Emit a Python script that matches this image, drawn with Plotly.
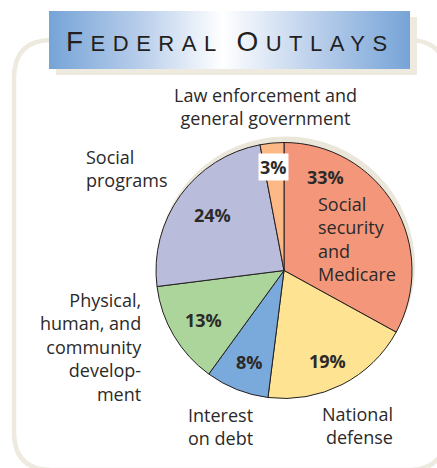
import plotly.graph_objects as go

# ---- data ----
categories = ["Social security and Medicare", "National defense", "Interest on debt",
              "Physical, human, and community development", "Social programs",
              "Law enforcement and general government"]
shares = [33, 19, 8, 13, 24, 3]
slice_colors = ["#f4967a", "#fee393", "#7aa9db", "#acd59c", "#b9bddb", "#fcb986"]

outside_labels = ["Social<br>security<br>and<br>Medicare", "National<br>defense",
                  "Interest<br>on debt", "Physical,<br>human, and<br>community<br>develop-<br>ment",
                  "Social<br>programs", "Law enforcement and<br>general government"]

W, H = 437, 468
TXT = "#2b2a29"
CREAM = "#eeeae0"
FONT = "Open Sans"

fig = go.Figure()

# pie (center 284,270.5  radius 128 in pixels)
cx, cy, r = 284, 270.5, 128
fig.add_trace(go.Pie(
    labels=categories, values=shares, sort=False, direction="clockwise", rotation=0,
    marker=dict(colors=slice_colors, line=dict(color="#231f20", width=1)),
    textinfo="none", hoverinfo="label+value", showlegend=False,
    domain=dict(x=[(cx - r) / W, (cx + r) / W], y=[(H - cy - r) / H, (H - cy + r) / H]),
))

# gradient title box via scatter fill
bx0, bx1, by0, by1 = 49, 410, 11, 69
fig.add_trace(go.Scatter(
    x=[bx0, bx1, bx1, bx0, bx0], y=[by0, by0, by1, by1, by0],
    mode="lines", line=dict(width=0), fill="toself",
    fillgradient=dict(type="horizontal",
                      colorscale=[[0, "#76a4d7"], [0.25, "#b7cdea"], [0.48, "#ffffff"],
                                  [0.75, "#b7cdea"], [1, "#76a4d7"]]),
    hoverinfo="skip", showlegend=False,
))

fig.update_xaxes(range=[0, W], visible=False, fixedrange=True)
fig.update_yaxes(range=[H, 0], visible=False, fixedrange=True)

shapes = []
# rounded frame
x0, x1, y0, y1, rr = 14, 446, 40, 470, 38
path = (f"M {x0+rr},{y0} L {x1-rr},{y0} Q {x1},{y0} {x1},{y0+rr} L {x1},{y1-rr} "
        f"Q {x1},{y1} {x1-rr},{y1} L {x0+rr},{y1} Q {x0},{y1} {x0},{y1-rr} "
        f"L {x0},{y0+rr} Q {x0},{y0} {x0+rr},{y0} Z")
shapes.append(dict(type="path", path=path, xref="x", yref="y",
                   line=dict(color=CREAM, width=4.5), fillcolor="rgba(0,0,0,0)", layer="below"))
# title shadow
shapes.append(dict(type="rect", x0=56, x1=417, y0=17, y1=75, xref="x", yref="y",
                   line=dict(width=0), fillcolor=CREAM, layer="below"))
# pie shadow
shapes.append(dict(type="circle", x0=cx + 2 - r - 1, x1=cx + 2 + r + 1, y0=cy - 5 - r - 1,
                   y1=cy - 5 + r + 1, xref="x", yref="y", line=dict(width=0),
                   fillcolor="#ebe6da", layer="below"))

annotations = []
# title
LS = "letter-spacing:7.5px"
title = (f'<span style="font-size:28px;{LS}">F</span><span style="font-size:22px;{LS}">EDERAL</span>'
         f'<span style="font-size:22px;{LS}"> </span>'
         f'<span style="font-size:28px;{LS}">O</span><span style="font-size:22px;{LS}">UTLAYS</span>')
annotations.append(dict(x=230, y=41, xref="x", yref="y", text=title, showarrow=False,
                        xanchor="center", yanchor="middle",
                        font=dict(family="Liberation Sans", color="#231f20", size=22)))

# outside category labels
lab_pos = [(316, 239, "left"), (395, 425, "right"), (186, 426, "left"),
           (144, 347, "right"), (84, 168, "left"), (265, 106, "center")]
for text, (x, y, al) in zip(outside_labels, lab_pos):
    annotations.append(dict(x=x, y=y, xref="x", yref="y", text=text, showarrow=False,
                            xanchor=al, yanchor="middle", align=al,
                            font=dict(family=FONT, color=TXT, size=18)))

# percentage labels
pct_pos = [(325, 177), (327, 361), (249, 362), (203, 320), (212, 215), (273, 167)]
for i, (v, (x, y)) in enumerate(zip(shares, pct_pos)):
    a = dict(x=x, y=y, xref="x", yref="y", text=f"<b>{v}%</b>", showarrow=False,
             xanchor="center", yanchor="middle",
             font=dict(family=FONT, color=TXT, size=18))
    if categories[i].startswith("Law"):
        a.update(bgcolor="white", borderpad=1)
    annotations.append(a)

fig.update_layout(width=W, height=H, margin=dict(l=0, r=0, t=0, b=0),
                  paper_bgcolor="white", plot_bgcolor="white",
                  shapes=shapes, annotations=annotations)

fig.write_html("out.html", config={"displayModeBar": False},
               post_script="document.body.style.margin='0';document.body.style.padding='0';")
